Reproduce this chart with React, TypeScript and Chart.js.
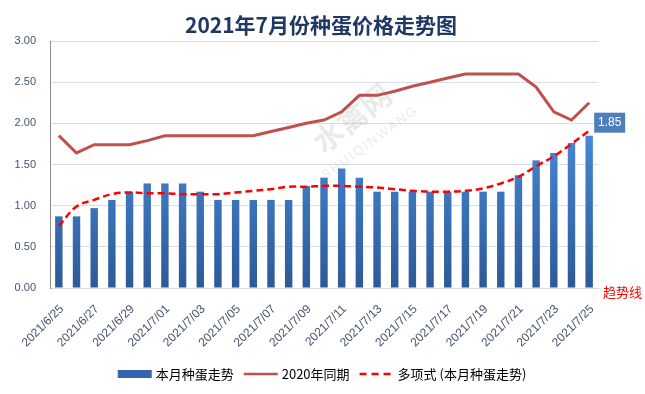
import React, { useEffect, useRef } from "react";
import { Chart, registerables } from "chart.js";

Chart.register(...registerables);

const categories = [
  "2021/6/25", "2021/6/26", "2021/6/27", "2021/6/28", "2021/6/29", "2021/6/30",
  "2021/7/01", "2021/7/02", "2021/7/03", "2021/7/04", "2021/7/05", "2021/7/06",
  "2021/7/07", "2021/7/08", "2021/7/09", "2021/7/10", "2021/7/11", "2021/7/12",
  "2021/7/13", "2021/7/14", "2021/7/15", "2021/7/16", "2021/7/17", "2021/7/18",
  "2021/7/19", "2021/7/20", "2021/7/21", "2021/7/22", "2021/7/23", "2021/7/24",
  "2021/7/25",
];

const thisMonth = [
  0.87, 0.87, 0.97, 1.07, 1.17, 1.27, 1.27, 1.27, 1.17, 1.07, 1.07, 1.07,
  1.07, 1.07, 1.24, 1.34, 1.45, 1.34, 1.17, 1.17, 1.17, 1.17, 1.17, 1.17,
  1.17, 1.17, 1.37, 1.55, 1.64, 1.76, 1.85,
];

const lastYear = [
  1.85, 1.64, 1.74, 1.74, 1.74, 1.79, 1.85, 1.85, 1.85, 1.85, 1.85, 1.85,
  1.90, 1.95, 2.0, 2.04, 2.14, 2.34, 2.34, 2.39, 2.45, 2.5, 2.55, 2.6,
  2.6, 2.6, 2.6, 2.44, 2.14, 2.04, 2.25,
];

const trend = [
  0.75, 0.99, 1.07, 1.14, 1.16, 1.15, 1.15, 1.14, 1.14, 1.14, 1.16, 1.18,
  1.2, 1.23, 1.23, 1.24, 1.24, 1.23, 1.22, 1.2, 1.18, 1.17, 1.17, 1.18,
  1.21, 1.27, 1.35, 1.48, 1.6, 1.75, 1.91,
];

const seriesNames = ["本月种蛋走势", "2020年同期", "多项式 (本月种蛋走势)"];
const titleText = "2021年7月份种蛋价格走势图";
const trendNote = "趋势线";
const watermarkCn = "水禽网";
const watermarkEn = "SHUIQINWANG";

const CJK = '"Noto Sans CJK SC", "Noto Sans", sans-serif';
const LAT = '"Liberation Sans", Arial, sans-serif';

const decorPlugin = {
  id: "decor",
  beforeDatasetsDraw(chart: any) {
    const ctx = chart.ctx;
    ctx.save();
    ctx.globalAlpha = 0.16;
    ctx.fillStyle = "#7f7f7f";
    ctx.translate(352, 118);
    ctx.rotate(-0.66);
    ctx.font = `bold 30px ${CJK}`;
    ctx.textAlign = "center";
    ctx.textBaseline = "middle";
    ctx.fillText(watermarkCn, 0, 0);
    ctx.restore();
    ctx.save();
    ctx.globalAlpha = 0.16;
    ctx.fillStyle = "#7f7f7f";
    ctx.translate(370, 143);
    ctx.rotate(-0.63);
    ctx.font = `13px ${LAT}`;
    ctx.textAlign = "center";
    ctx.textBaseline = "middle";
    (ctx as any).letterSpacing = "2px";
    ctx.fillText(watermarkEn, 0, 0);
    ctx.restore();
  },
  afterDraw(chart: any) {
    const ctx = chart.ctx;
    ctx.save();
    // title
    ctx.font = `bold 21px ${CJK}`;
    ctx.fillStyle = "#1F3864";
    ctx.textAlign = "center";
    ctx.textBaseline = "middle";
    ctx.fillText(titleText, 321, 25);

    // value label on last bar
    const meta = chart.getDatasetMeta(0);
    const last = meta.data[meta.data.length - 1];
    if (last) {
      const bx = last.x + 5;
      const by = last.y - 23;
      ctx.fillStyle = "#4F7FBA";
      ctx.fillRect(bx, by, 31, 20);
      ctx.fillStyle = "#ffffff";
      ctx.font = `12px ${LAT}`;
      ctx.textAlign = "center";
      ctx.fillText(thisMonth[thisMonth.length - 1].toFixed(2), bx + 15.5, by + 10.5);
    }

    // trend note
    ctx.fillStyle = "#FF0000";
    ctx.font = `13px ${CJK}`;
    ctx.textAlign = "left";
    ctx.fillText(trendNote, 603, 292);

    // legend
    const ly = 374;
    ctx.font = `13px ${CJK}`;
    ctx.textBaseline = "middle";
    const items = [
      { name: seriesNames[0], kind: "box" },
      { name: seriesNames[1], kind: "line" },
      { name: seriesNames[2], kind: "dash" },
    ];
    const symW = 34;
    const gapText = 4;
    const gapItem = 10;
    let total = 0;
    items.forEach((it, i) => {
      total += symW + gapText + ctx.measureText(it.name).width + (i < items.length - 1 ? gapItem : 0);
    });
    let x = 322 - total / 2;
    items.forEach((it) => {
      ctx.save();
      if (it.kind === "box") {
        ctx.fillStyle = "#3567AE";
        ctx.fillRect(x, ly - 4, symW, 8);
      } else if (it.kind === "line") {
        ctx.strokeStyle = "#C0504D";
        ctx.lineWidth = 2.5;
        ctx.beginPath();
        ctx.moveTo(x, ly);
        ctx.lineTo(x + symW, ly);
        ctx.stroke();
      } else {
        ctx.strokeStyle = "#FF0000";
        ctx.lineWidth = 2.5;
        ctx.setLineDash([7, 5]);
        ctx.beginPath();
        ctx.moveTo(x, ly);
        ctx.lineTo(x + symW, ly);
        ctx.stroke();
      }
      ctx.restore();
      x += symW + gapText;
      ctx.fillStyle = "#000000";
      ctx.textAlign = "left";
      ctx.fillText(it.name, x, ly);
      x += ctx.measureText(it.name).width + gapItem;
    });
    ctx.restore();
  },
};

export default function App() {
  const canvasRef = useRef<HTMLCanvasElement | null>(null);

  useEffect(() => {
    document.body.style.margin = "0";
    const canvas = canvasRef.current;
    if (!canvas) return;
    const chart = new Chart(canvas, {
      type: "bar",
      data: {
        labels: categories,
        datasets: [
          {
            type: "bar",
            label: seriesNames[0],
            data: thisMonth,
            order: 3,
            barPercentage: 0.42,
            categoryPercentage: 1,
            backgroundColor: (c: any) => {
              const area = c.chart.chartArea;
              if (!area) return "#3b78c8";
              const g = c.chart.ctx.createLinearGradient(0, area.top + 80, 0, area.bottom);
              g.addColorStop(0, "#4A8BDA");
              g.addColorStop(1, "#2C5A97");
              return g;
            },
          },
          {
            type: "line",
            label: seriesNames[1],
            data: lastYear,
            order: 1,
            borderColor: "#C0504D",
            borderWidth: 3,
            pointRadius: 0,
            tension: 0,
            fill: false,
          },
          {
            type: "line",
            label: seriesNames[2],
            data: trend,
            order: 0,
            borderColor: "#FF0000",
            borderWidth: 2.5,
            borderDash: [7, 4],
            pointRadius: 0,
            tension: 0.4,
            fill: false,
          },
        ] as any,
      },
      options: {
        animation: false,
        responsive: false,
        maintainAspectRatio: false,
        layout: { padding: { top: 41, right: 47, left: 0, bottom: 0 } },
        plugins: {
          legend: { display: false },
          title: { display: false },
          tooltip: { enabled: false },
        },
        scales: {
          x: {
            grid: { display: false, drawTicks: false },
            border: { display: true, color: "#D9D9D9", width: 1 },
            ticks: {
              autoSkip: false,
              maxRotation: 45,
              minRotation: 45,
              padding: 14,
              labelOffset: 3,
              color: "#44546A",
              font: { family: LAT, size: 12 },
              callback: (_v: any, i: number) => (i % 2 === 0 ? categories[i] : ""),
            },
            afterFit: (s: any) => {
              s.height = 106;
            },
          },
          y: {
            min: 0,
            max: 3,
            grid: {
              color: (c: any) => (c.tick && c.tick.value === 0 ? "rgba(0,0,0,0)" : "#D6DEEA"),
              drawTicks: false,
            },
            border: { display: true, color: "#8C8C8C", width: 1 },
            ticks: {
              stepSize: 0.5,
              padding: 14,
              color: "#44546A",
              font: { family: LAT, size: 11 },
              callback: (v: any) => Number(v).toFixed(2),
            },
            afterFit: (s: any) => {
              s.width = 50;
            },
          },
        },
      } as any,
      plugins: [decorPlugin],
    });
    return () => chart.destroy();
  }, []);

  return (
    <div style={{ width: 645, height: 394, position: "relative", background: "#fff" }}>
      <canvas ref={canvasRef} width={645} height={394} style={{ display: "block" }} />
    </div>
  );
}
